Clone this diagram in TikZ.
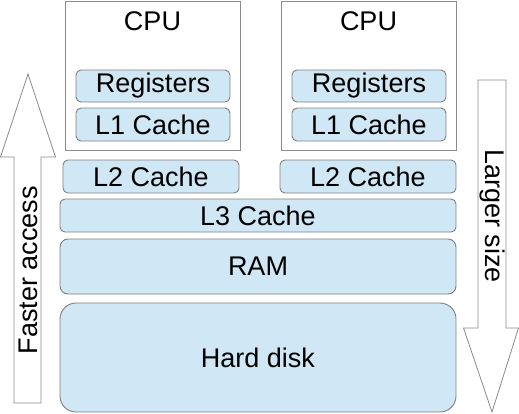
\documentclass[tikz,border=0pt]{standalone}
\usepackage{fontspec}
\setmainfont{Liberation Sans}
\begin{document}
\begin{tikzpicture}[x=1pt,y=-1pt,
  blk/.style={draw=boxgray, fill=cachefill, rounded corners=5pt, line width=0.9pt, inner sep=0pt, font=\fontsize{27}{31}\selectfont},
  cpubox/.style={draw=cpugray, line width=0.9pt, inner sep=0pt},
  lbl/.style={font=\fontsize{27}{31}\selectfont, inner sep=0pt},
  arr/.style={draw=arrgray, line width=0.8pt, fill=white}]
\definecolor{boxgray}{HTML}{7F7F7F}
\definecolor{cpugray}{HTML}{8C8C8C}
\definecolor{arrgray}{HTML}{8A8A8A}
\definecolor{cachefill}{HTML}{D0E7F5}
\useasboundingbox (0,0) rectangle (519,413);
% CPU boxes
\node[cpubox, minimum width=175pt, minimum height=149pt] (cpu1) at (152.5,75.5) {};
\node[cpubox, minimum width=175pt, minimum height=149pt] (cpu2) at (368.5,75.5) {};
\node[lbl] (cpu1l) at (152.5,21) {CPU};
\node[lbl] (cpu2l) at (368.5,21) {CPU};
% Registers and L1
\node[blk, minimum width=154pt, minimum height=32pt] (reg1) at (153,86) {Registers};
\node[blk, minimum width=154pt, minimum height=33pt] (l1a) at (153,124.5) {L1 Cache};
\node[blk, minimum width=154pt, minimum height=32pt] (reg2) at (369,86) {Registers};
\node[blk, minimum width=154pt, minimum height=33pt] (l1b) at (369,124.5) {L1 Cache};
% L2
\node[blk, minimum width=176pt, minimum height=33pt] (l2a) at (151,176.5) {L2 Cache};
\node[blk, minimum width=176pt, minimum height=33pt] (l2b) at (368,176.5) {L2 Cache};
% L3, RAM, Disk
\node[blk, minimum width=396pt, minimum height=33pt] (l3) at (258,215.5) {L3 Cache};
\node[blk, rounded corners=8pt, minimum width=396pt, minimum height=55pt] (ram) at (258,266.5) {RAM};
\node[blk, rounded corners=16pt, minimum width=396pt, minimum height=109pt] (disk) at (258,357.5) {Hard disk};
% Up arrow (faster access)
\draw[arr] (14,403) -- (14,157) -- (0.5,157) -- (28,74) -- (55.5,157) -- (41,157) -- (41,403) -- cycle;
\node[lbl, rotate=90] (fast) at (28,270) {Faster access};
% Down arrow (larger size)
\draw[arr] (478,80) -- (506,80) -- (506,328) -- (518.5,328) -- (492,412) -- (463.5,328) -- (478,328) -- cycle;
\node[lbl, rotate=-90] (large) at (492,216) {Larger size};
\end{tikzpicture}
\end{document}
